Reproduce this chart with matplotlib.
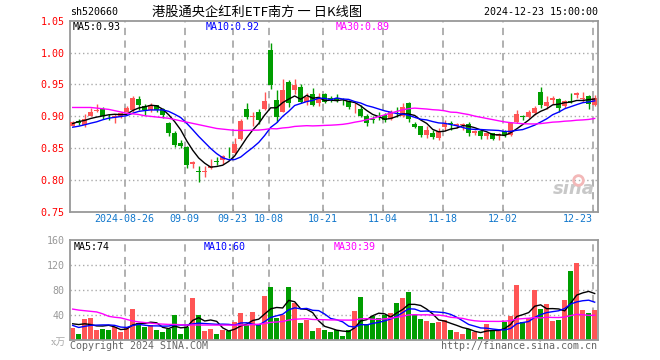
import numpy as np
import matplotlib.pyplot as plt
import pandas as pd

plt.rcParams['font.family'] = ['DejaVu Sans Mono', 'Noto Sans CJK SC']

# daily candles, 2024-08-13 .. 2024-12-23 (88 trading days)
open_ = [0.885, 0.893, 0.886, 0.900, 0.908, 0.912, 0.899, 0.899, 0.899, 0.907,
         0.909, 0.927, 0.916, 0.909, 0.917, 0.911, 0.890, 0.874, 0.858, 0.852,
         0.825, 0.814, 0.813, 0.818, 0.829, 0.831, 0.844, 0.842, 0.864, 0.912,
         0.899, 0.907, 0.911, 1.004, 0.9255, 0.907, 0.954, 0.941, 0.946, 0.923,
         0.935, 0.921, 0.935, 0.928, 0.928, 0.926, 0.924, 0.914, 0.912, 0.900,
         0.895, 0.900, 0.902, 0.896, 0.907, 0.900, 0.921, 0.888, 0.884, 0.8705,
         0.874, 0.865, 0.883, 0.889, 0.885, 0.886, 0.887, 0.874, 0.876, 0.869,
         0.873, 0.869, 0.876, 0.871, 0.891, 0.900, 0.899, 0.9045, 0.9385, 0.916,
         0.926, 0.927, 0.916, 0.924, 0.933, 0.927, 0.932, 0.918]
high = [0.892, 0.895, 0.9035, 0.913, 0.919, 0.914, 0.903, 0.904, 0.907, 0.916,
        0.932, 0.932, 0.919, 0.921, 0.918, 0.913, 0.891, 0.876, 0.862, 0.853,
        0.830, 0.821, 0.821, 0.832, 0.836, 0.839, 0.851, 0.865, 0.895, 0.921,
        0.907, 0.912, 0.9385, 1.0155, 0.941, 0.958, 0.957, 0.958, 0.950, 0.937,
        0.944, 0.937, 0.937, 0.932, 0.935, 0.928, 0.925, 0.920, 0.918, 0.903,
        0.900, 0.907, 0.905, 0.910, 0.915, 0.921, 0.923, 0.891, 0.885, 0.885,
        0.878, 0.881, 0.894, 0.893, 0.890, 0.890, 0.891, 0.879, 0.879, 0.874,
        0.874, 0.874, 0.879, 0.891, 0.910, 0.902, 0.910, 0.916, 0.9465, 0.931,
        0.931, 0.928, 0.925, 0.937, 0.938, 0.938, 0.933, 0.933]
low = [0.884, 0.886, 0.8825, 0.900, 0.907, 0.896, 0.894, 0.889, 0.897, 0.906,
       0.907, 0.910, 0.902, 0.906, 0.907, 0.897, 0.869, 0.851, 0.850, 0.818,
       0.818, 0.797, 0.805, 0.817, 0.823, 0.825, 0.835, 0.841, 0.863, 0.895,
       0.885, 0.887, 0.910, 0.942, 0.891, 0.906, 0.915, 0.935, 0.920, 0.918,
       0.916, 0.916, 0.920, 0.923, 0.923, 0.917, 0.911, 0.905, 0.899, 0.885,
       0.889, 0.894, 0.891, 0.894, 0.899, 0.898, 0.891, 0.881, 0.867, 0.865,
       0.864, 0.863, 0.877, 0.879, 0.881, 0.878, 0.869, 0.870, 0.864, 0.864,
       0.863, 0.863, 0.868, 0.869, 0.890, 0.894, 0.897, 0.902, 0.9125, 0.912,
       0.919, 0.907, 0.913, 0.921, 0.929, 0.923, 0.912, 0.916]
close = [0.891, 0.889, 0.896, 0.907, 0.910, 0.900, 0.898, 0.900, 0.9045, 0.913,
         0.929, 0.918, 0.909, 0.917, 0.909, 0.902, 0.874, 0.855, 0.853, 0.823,
         0.828, 0.813, 0.814, 0.822, 0.828, 0.838, 0.843, 0.857, 0.8925, 0.899,
         0.900, 0.894, 0.924, 0.949, 0.899, 0.941, 0.921, 0.949, 0.923, 0.930,
         0.918, 0.928, 0.923, 0.927, 0.926, 0.925, 0.915, 0.915, 0.900, 0.890,
         0.894, 0.898, 0.894, 0.906, 0.906, 0.915, 0.896, 0.883, 0.8705, 0.879,
         0.868, 0.877, 0.888, 0.887, 0.887, 0.887, 0.873, 0.876, 0.869, 0.873,
         0.864, 0.872, 0.871, 0.890, 0.9035, 0.898, 0.907, 0.9125, 0.9175, 0.923,
         0.929, 0.9125, 0.924, 0.922, 0.936, 0.929, 0.919, 0.929]
volume = [18, 9, 33, 34, 15, 17, 15, 20, 12.5, 20,
          49, 27, 20, 23, 15, 12.5, 17, 40, 9, 20,
          67, 39, 13.5, 17, 9, 15, 13.5, 28, 43, 24,
          44, 24, 70, 84, 35, 40, 85, 59, 27, 31,
          13.5, 19, 15, 12.5, 15, 6, 15, 45, 68, 25,
          38, 35, 40, 42, 58, 66, 76, 40, 33, 29,
          27, 28, 31, 15, 12.5, 9, 17, 12.5, 4.5, 25,
          13.5, 17, 28, 38, 88, 28, 34, 79, 49, 57,
          29, 31, 64, 110, 122, 47, 43, 47]

# closes / volumes of the 29 days before the window (estimated, they only feed the MAs)
pre_close = [0.889, 0.896, 0.907, 0.940, 0.930, 0.928, 0.960, 0.964, 0.973, 0.959,
             0.948, 0.969, 0.947, 0.939, 0.932, 0.904, 0.915, 0.913, 0.883, 0.888,
             0.873, 0.874, 0.882, 0.888, 0.868, 0.873, 0.887, 0.892, 0.899]
pre_vol = [57, 63, 64, 45, 107, 135, 65, 42, 95, 124,
           72, 50, 53, 45, 28, 32, 40, 24, 35, 62,
           42, 15, 18, 11, 14, 15, 27, 40, 26]

tick_idx = [9, 19, 27, 33, 42, 52, 62, 72, 87]
tick_lbl = ["2024-08-26", "09-09", "09-23", "10-08", "10-21", "11-04", "11-18", "12-02", "12-23"]

RED = "#ff5555"
GREEN = "#009d00"
GRID = "#aaaaaa"
BORDER = "#999999"


def ma(pre, vals, n):
    s = pd.Series(list(pre) + list(vals)).rolling(n).mean().values
    return s[len(pre):]


o, h, l, c = map(np.array, (open_, high, low, close))
v = np.array(volume, dtype=float)
x = np.arange(len(c))
cols = np.where(c >= o, RED, GREEN)

fig = plt.figure(figsize=(6.6, 3.6), dpi=100)
W, H = 660.0, 360.0
ax = fig.add_axes([70.3 / W, 1 - 211.7 / H, 527.2 / W, 191.0 / H])
av = fig.add_axes([70.3 / W, 1 - 339.5 / H, 527.2 / W, 99.7 / H])

for a in (ax, av):
    a.set_xlim(-0.4, 87.47)
    for s in a.spines.values():
        s.set_color(BORDER)
        s.set_linewidth(1.3)
    for t in tick_idx:
        a.axvline(t - 0.33, color=GRID, lw=1.3, ls=(0, (4, 3)), zorder=0)
    a.tick_params(axis='both', length=0, labelsize=7.2, pad=4)

# price panel
ax.set_ylim(0.75, 1.05)
for yv in [0.80, 0.85, 0.90, 0.95, 1.00]:
    ax.axhline(yv, color=GRID, lw=1, ls=(0, (1, 2)), zorder=0)
ax.set_yticks([0.75, 0.80, 0.85, 0.90, 0.95, 1.00, 1.05],
              ["0.75", "0.80", "0.85", "0.90", "0.95", "1.00", "1.05"])
ax.tick_params(axis='y', labelcolor='red')
ax.set_xticks([t - 0.33 for t in tick_idx], tick_lbl[:-1] + [""])
ax.tick_params(axis='x', labelcolor='#1177cc', pad=2, direction='in', length=2, color=BORDER)
ax.text(tick_idx[-1] - 0.33, -0.012, tick_lbl[-1], transform=ax.get_xaxis_transform(),
        ha='right', va='top', fontsize=7.2, color='#1177cc')

ax.vlines(x, l, h, colors=cols, lw=1, zorder=2)
ax.bar(x, np.maximum(np.abs(c - o), 0.0012), 0.8, bottom=np.minimum(o, c),
       color=cols, lw=0, zorder=3)
ax.plot(x, ma(pre_close, c, 5), color='black', lw=1, zorder=4)
ax.plot(x, ma(pre_close, c, 10), color='#0000ff', lw=1, zorder=4)
ax.plot(x, ma(pre_close, c, 30), color='#ff00ff', lw=1, zorder=4)

ax.text(83.5, 0.785, "sina", fontsize=13, color='#c8c8c8', fontstyle='italic',
        fontweight='bold', family='DejaVu Sans', ha='center', va='center', zorder=1)
ax.plot([84.2], [0.8], marker='o', ms=7, mfc='none', mec='#f3b8b8', mew=2, zorder=1)

# volume panel
av.set_ylim(0, 160)
for yv in [40, 80, 120]:
    av.axhline(yv, color=GRID, lw=1, ls=(0, (1, 2)), zorder=0)
av.set_yticks([40, 80, 120, 160], ["40", "80", "120", "160"])
av.tick_params(axis='y', labelcolor='#999999')
av.set_xticks([])
av.bar(x, v, 0.8, color=cols, lw=0, zorder=2)
av.plot(x, ma(pre_vol, v, 5), color='black', lw=1, zorder=3)
av.plot(x, ma(pre_vol, v, 10), color='#0000ff', lw=1, zorder=3)
av.plot(x, ma(pre_vol, v, 30), color='#ff00ff', lw=1, zorder=3)


def T(px, py, s, **kw):
    fig.text(px / W, 1 - py / H, s, **kw)


T(70, 12, "sh520660", fontsize=7.2, va='center')
T(257, 12, "港股通央企红利ETF南方 一 日K线图", fontsize=9.5, ha='center', va='center',
  family=['Noto Sans CJK SC', 'DejaVu Sans'])
T(598, 12, "2024-12-23 15:00:00", fontsize=7.2, ha='right', va='center')
T(73, 27, "MA5:0.93", fontsize=7.2, va='center', color='black')
T(206, 27, "MA10:0.92", fontsize=7.2, va='center', color='#0000ff')
T(336, 27, "MA30:0.89", fontsize=7.2, va='center', color='#ff00ff')
T(74, 247, "MA5:74", fontsize=7.2, va='center', color='black')
T(204, 247, "MA10:60", fontsize=7.2, va='center', color='#0000ff')
T(334, 247, "MA30:39", fontsize=7.2, va='center', color='#ff00ff')
T(66, 342, "x万", fontsize=7, ha='right', va='center', color='#aaaaaa',
  family=['DejaVu Serif', 'Noto Sans CJK SC'])
T(70, 346, "Copyright 2024 SINA.COM", fontsize=7.2, va='center', color='#666666')
T(597, 346, "http://finance.sina.com.cn", fontsize=7.2, ha='right', va='center', color='#666666')

fig.savefig("out.png", dpi=100)
